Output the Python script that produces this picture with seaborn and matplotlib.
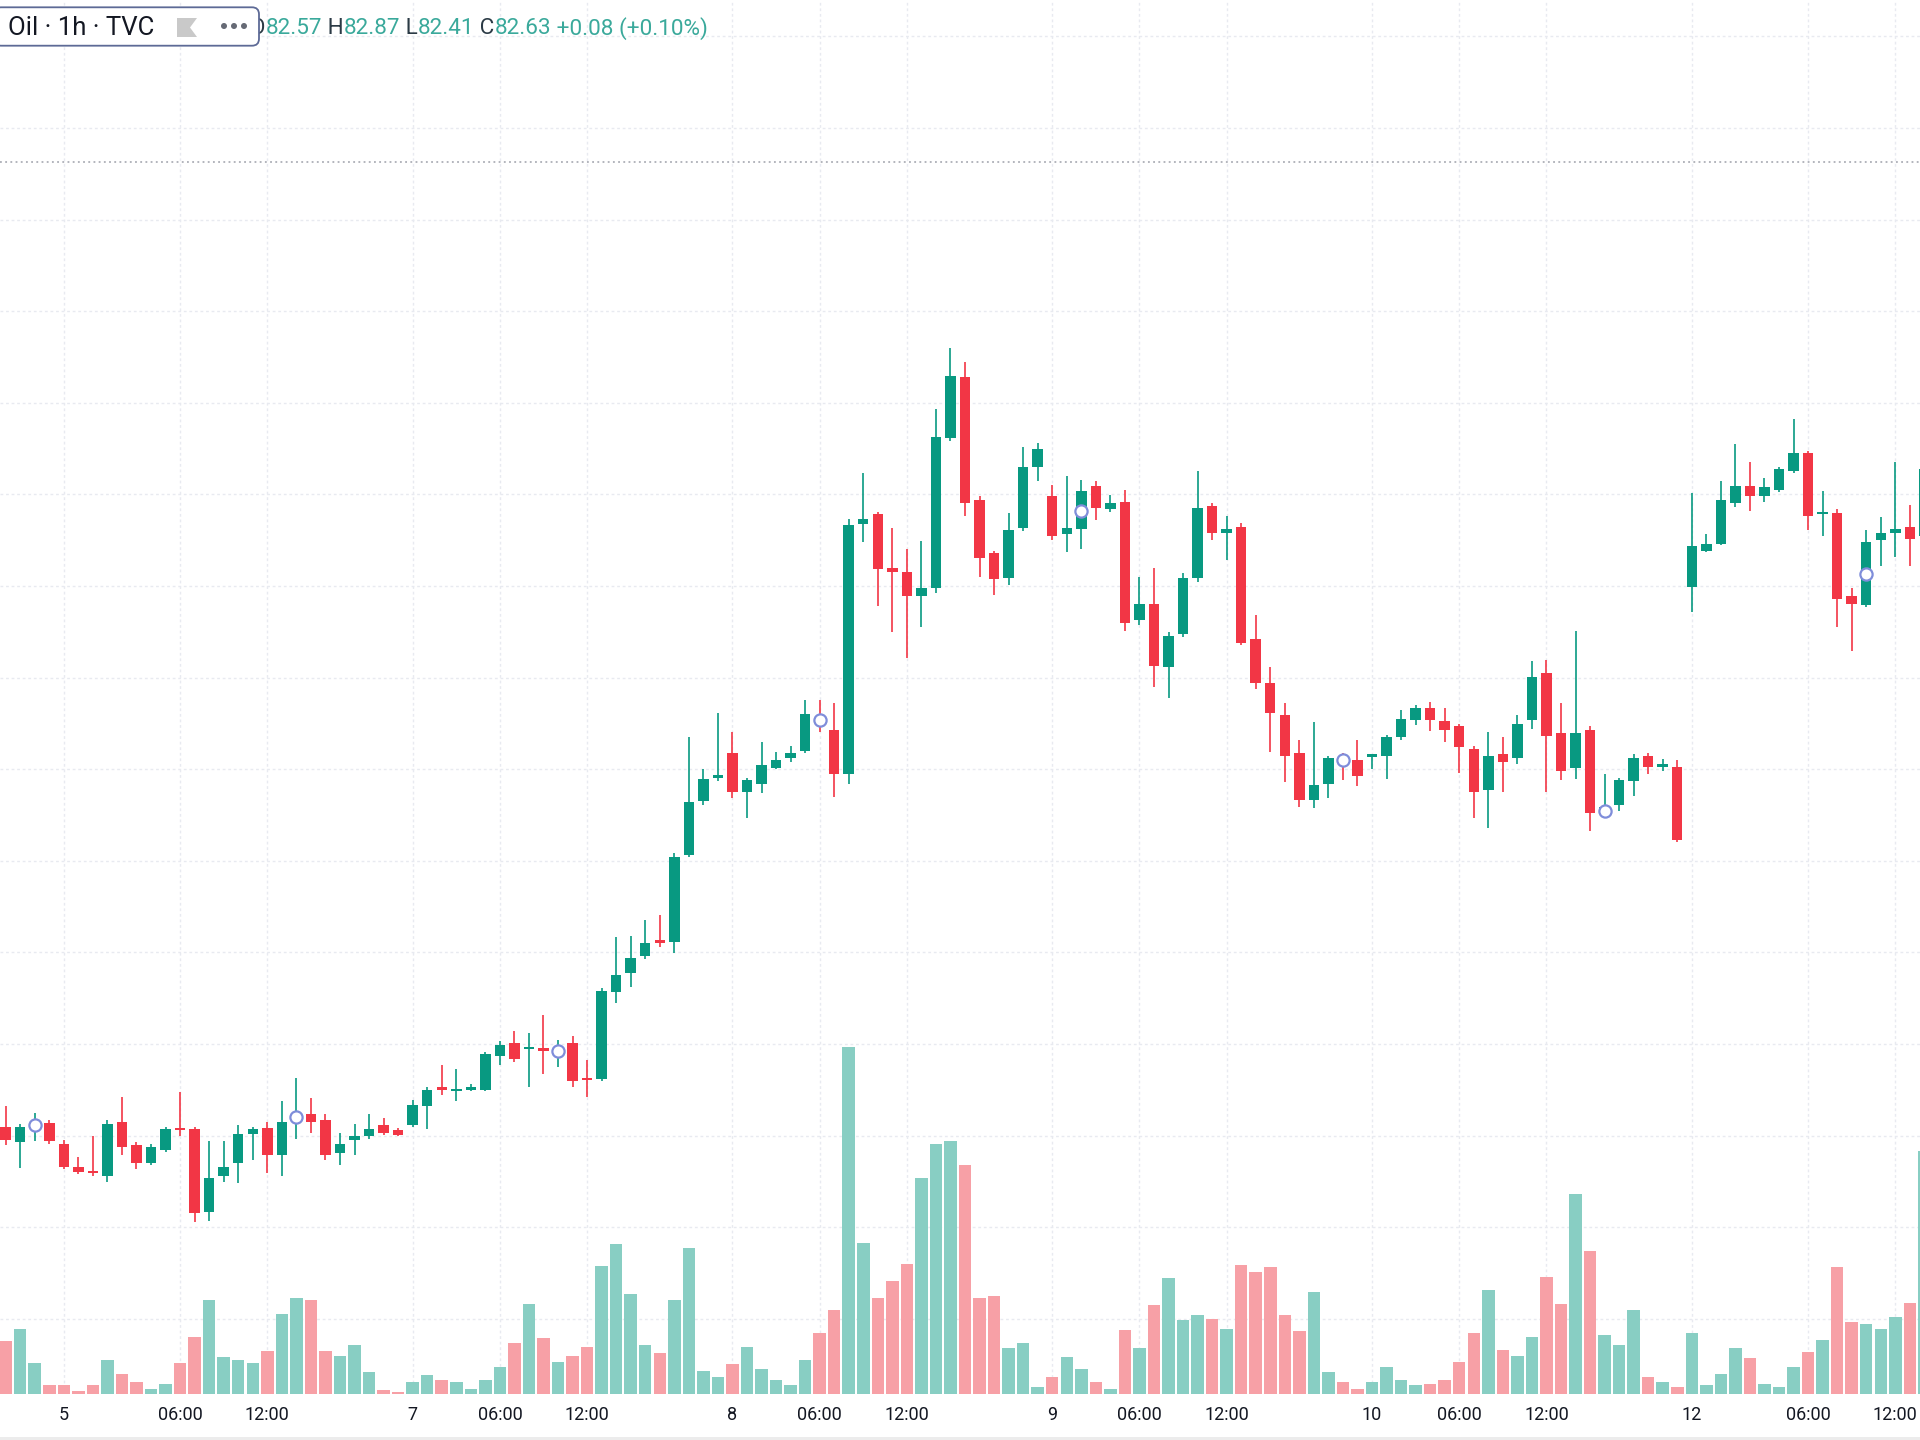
import numpy as np
import pandas as pd
import seaborn as sns
import matplotlib.pyplot as plt
from matplotlib.patches import FancyBboxPatch, Polygon, Circle
from matplotlib.transforms import IdentityTransform

# --- Data (1h bars, TVC Oil) ---
open_ = [77.80, 77.67, 77.79, 77.83, 77.66, 77.47, 77.43, 77.40, 77.84, 77.65,
         77.50, 77.61, 77.78, 77.78, 77.10, 77.40, 77.50, 77.74, 77.79, 77.57,
         77.86, 77.90, 77.85, 77.58, 77.69, 77.72, 77.81, 77.77, 77.81, 77.97,
         78.12, 78.09, 78.10, 78.10, 78.38, 78.48, 78.43, 78.44, 78.40, 78.48,
         78.20, 78.19, 78.90, 79.05, 79.19, 79.32, 79.31, 80.02, 80.46, 80.65,
         80.85, 80.53, 80.60, 80.73, 80.81, 80.87, 81.14, 81.04, 80.68, 82.72,
         82.80, 82.36, 82.33, 82.13, 82.20, 83.42, 83.92, 82.92, 82.48, 82.28,
         82.69, 83.19, 82.95, 82.64, 82.68, 83.03, 82.84, 82.90, 81.94, 82.07,
         81.55, 81.82, 82.28, 82.87, 82.65, 82.70, 81.78, 81.42, 81.16, 80.85,
         80.47, 80.60, 80.81, 80.79, 80.82, 80.83, 80.98, 81.12, 81.22, 81.11,
         81.07, 80.88, 80.55, 80.84, 80.81, 81.12, 81.50, 81.01, 80.73, 81.04,
         80.37, 80.43, 80.62, 80.83, 80.74, 80.74, 82.21, 82.50, 82.56, 82.89,
         83.03, 82.95, 83.00, 83.15, 83.30, 82.80, 82.81, 82.13, 82.06, 82.59,
         82.65, 82.70, 82.62]
high = [77.97, 77.82, 77.91, 77.85, 77.69, 77.55, 77.72, 77.85, 78.04, 77.67,
        77.66, 77.80, 78.08, 77.80, 77.68, 77.68, 77.81, 77.80, 77.84, 78.01,
        78.20, 78.03, 77.90, 77.75, 77.82, 77.90, 77.87, 77.79, 78.02, 78.12,
        78.30, 78.27, 78.15, 78.41, 78.50, 78.58, 78.56, 78.71, 78.51, 78.54,
        78.34, 78.93, 79.35, 79.36, 79.49, 79.53, 80.03, 80.98, 80.72, 81.18,
        81.02, 80.65, 80.94, 80.86, 80.91, 81.28, 81.28, 81.26, 82.76, 83.14,
        82.82, 82.69, 82.52, 82.58, 83.66, 84.16, 84.04, 82.95, 82.50, 82.81,
        83.35, 83.38, 83.04, 83.11, 83.08, 83.07, 82.96, 83.00, 82.29, 82.36,
        81.84, 82.32, 83.15, 82.89, 82.79, 82.73, 81.98, 81.55, 81.26, 80.96,
        81.10, 80.83, 80.85, 80.96, 80.84, 81.00, 81.20, 81.24, 81.27, 81.22,
        81.09, 80.91, 81.02, 80.98, 81.16, 81.60, 81.61, 81.26, 81.85, 81.07,
        80.68, 80.65, 80.84, 80.85, 80.80, 80.79, 82.97, 82.64, 83.07, 83.37,
        83.23, 83.10, 83.19, 83.58, 83.32, 82.99, 82.84, 82.20, 82.67, 82.78,
        83.23, 82.88, 83.40]
low = [77.65, 77.46, 77.68, 77.66, 77.45, 77.41, 77.40, 77.35, 77.57, 77.45,
       77.49, 77.59, 77.72, 77.02, 77.03, 77.35, 77.34, 77.53, 77.42, 77.40,
       77.70, 77.75, 77.53, 77.49, 77.57, 77.70, 77.73, 77.72, 77.80, 77.78,
       78.06, 78.01, 78.09, 78.09, 78.30, 78.33, 78.12, 78.23, 78.29, 78.12,
       78.04, 78.17, 78.81, 78.94, 79.17, 79.27, 79.22, 80.00, 80.43, 80.62,
       80.48, 80.32, 80.52, 80.72, 80.78, 80.85, 81.02, 80.49, 80.60, 82.57,
       82.05, 81.84, 81.63, 81.88, 82.16, 83.40, 82.79, 82.29, 82.14, 82.22,
       82.66, 83.07, 82.59, 82.49, 82.52, 82.75, 82.82, 81.85, 81.90, 81.39,
       81.30, 81.80, 82.25, 82.59, 82.43, 81.73, 81.37, 80.86, 80.61, 80.41,
       80.40, 80.48, 80.63, 80.58, 80.72, 80.64, 80.96, 81.08, 81.03, 80.94,
       80.69, 80.32, 80.24, 80.53, 80.76, 81.05, 80.53, 80.63, 80.64, 80.21,
       80.35, 80.38, 80.50, 80.68, 80.70, 80.12, 82.00, 82.49, 82.55, 82.86,
       82.83, 82.90, 82.98, 83.14, 82.67, 82.62, 81.88, 81.68, 82.04, 82.38,
       82.45, 82.38, 82.55]
close = [77.69, 77.80, 77.83, 77.68, 77.47, 77.43, 77.42, 77.82, 77.63, 77.50,
         77.63, 77.78, 77.77, 77.09, 77.38, 77.47, 77.74, 77.78, 77.57, 77.84,
         77.90, 77.84, 77.57, 77.66, 77.72, 77.78, 77.75, 77.73, 77.98, 78.10,
         78.10, 78.11, 78.12, 78.39, 78.47, 78.35, 78.45, 78.42, 78.44, 78.17,
         78.18, 78.91, 79.04, 79.18, 79.30, 79.30, 80.00, 80.45, 80.64, 80.67,
         80.53, 80.63, 80.75, 80.79, 80.85, 81.17, 81.10, 80.68, 82.71, 82.76,
         82.35, 82.33, 82.13, 82.20, 83.43, 83.93, 82.89, 82.44, 82.27, 82.67,
         83.19, 83.33, 82.62, 82.69, 82.99, 82.85, 82.89, 81.91, 82.07, 81.56,
         81.81, 82.28, 82.85, 82.65, 82.68, 81.75, 81.42, 81.18, 80.83, 80.47,
         80.59, 80.81, 80.77, 80.66, 80.84, 80.98, 81.13, 81.22, 81.12, 81.04,
         80.90, 80.53, 80.83, 80.78, 81.09, 81.47, 80.99, 80.70, 81.01, 80.36,
         80.41, 80.63, 80.81, 80.74, 80.76, 80.14, 82.54, 82.56, 82.92, 83.03,
         82.95, 83.02, 83.17, 83.30, 82.79, 82.82, 82.11, 82.07, 82.57, 82.65,
         82.68, 82.60, 83.17]
volume = [4300, 5300, 2450, 680, 680, 220, 680, 2700, 1600, 900,
          400, 800, 2450, 4600, 7600, 3000, 2700, 2450, 3500, 6500,
          7800, 7600, 3500, 3100, 3950, 1770, 270, 100, 950, 1500,
          1100, 950, 400, 1100, 2200, 4100, 7300, 4500, 2600, 3100,
          3800, 10400, 12200, 8100, 3950, 3270, 7600, 11900, 1850, 1360,
          2400, 3800, 2000, 1100, 680, 2700, 4900, 6800, 28300, 12260,
          7770, 9200, 10570, 17570, 20400, 20650, 18660, 7770, 8000, 3680,
          4090, 540, 1360, 3000, 2040, 950, 400, 5180, 3680, 7200,
          9400, 6000, 6400, 6100, 5300, 10500, 9950, 10350, 6400, 5070,
          8300, 1770, 950, 400, 950, 2180, 1100, 680, 800, 1100,
          2600, 4900, 8450, 3540, 3100, 4600, 9500, 7300, 16300, 11600,
          4770, 3950, 6800, 1360, 950, 540, 4900, 680, 1600, 3680,
          2860, 800, 540, 2180, 3400, 4360, 10350, 5860, 5700, 5300,
          6270, 7360, 19800]

# hollow event markers drawn on some bars
marker_bars = [2, 20, 38, 56, 74, 92, 110, 128]
marker_price = [77.81, 77.88, 78.42, 81.12, 82.83, 80.79, 80.38, 82.31]

# time axis labels (bar index of each label)
tick_bars = [4, 12, 18, 28, 34, 40, 50, 56, 62, 72, 78, 84, 94, 100, 106, 116, 124, 130]
tick_labels = ["5", "06:00", "12:00", "7", "06:00", "12:00", "8", "06:00", "12:00",
               "9", "06:00", "12:00", "10", "06:00", "12:00", "12", "06:00", "12:00"]

prev_close_line = 85.68
ohlc_header = [("O", "dark"), ("82.57", "val"), (" H", "dark"), ("82.87", "val"),
               (" L", "dark"), ("82.41", "val"), (" C", "dark"), ("82.63", "val"),
               (" +0.08 (+0.10%)", "val")]

UP = "#089981"
DOWN = "#f23645"
VOL_UP = "#88cec3"
VOL_DOWN = "#f7a0a6"
GRID = "#e8eaf0"
TEXT = "#131722"

sns.set_theme(style="white")
plt.rcParams['font.family'] = ['Roboto', 'DejaVu Sans']

W, H = 1920, 1440
fig = plt.figure(figsize=(W / 100, H / 100), dpi=100, facecolor="white")
pane_bottom = 46.5 / H
ax = fig.add_axes([0, pane_bottom, 1, 1 - pane_bottom])
axv = ax.twinx()
ax.set_zorder(2)
axv.set_zorder(1)
ax.patch.set_visible(False)

idx = np.arange(len(close))
o = np.array(open_)
c = np.array(close)
up = c >= o
colors = np.where(up, UP, DOWN)

# volume at the bottom of the pane
vol_df = pd.DataFrame({"bar": idx, "volume": volume, "side": np.where(up, "up", "down")})
sns.barplot(data=vol_df, x="bar", y="volume", hue="side",
            palette={"up": VOL_UP, "down": VOL_DOWN}, native_scale=True,
            dodge=False, width=0.86, saturation=1, errorbar=None,
            legend=False, linewidth=0, ax=axv)

# candles
ax.vlines(idx, low, high, colors=colors, linewidth=1.2, zorder=2)
body_lo = np.minimum(o, c)
body_h = np.maximum(np.abs(c - o), 0.02)
ax.bar(idx, body_h, bottom=body_lo, width=0.72, color=colors, linewidth=0, zorder=3)
ax.plot(marker_bars, marker_price, "o", ms=8.8, mfc="white", mec="#7f8dda",
        mew=1.6, zorder=4, linestyle="none")

ax.axhline(prev_close_line, color="#9ea1aa", linestyle=(0, (1.2, 2.2)), lw=1.1, zorder=1)

xlim = (-0.39, 131.7)
ylim = (75.62, 87.0)
ax.set_xlim(*xlim)
ax.set_ylim(*ylim)

# grid behind everything (drawn in the volume axes)
grid_levels = np.arange(76.23, 87.0, 0.748)
axv.hlines(grid_levels, xlim[0], xlim[1], transform=ax.transData,
           colors=GRID, linestyles=(0, (2, 2)), linewidth=1.0, zorder=0)
axv.vlines(tick_bars, 0, 1, transform=axv.get_xaxis_transform(),
           colors=GRID, linestyles=(0, (2, 2)), linewidth=1.0, zorder=0)
axv.set_xlim(*xlim)
axv.set_ylim(0, 113800)

ax.set_xticks(tick_bars)
ax.set_xticklabels(tick_labels)
ax.set_yticks([])
axv.set_yticks([])
axv.set_xlabel("")
axv.set_ylabel("")
ax.set_xlabel("")
ax.set_ylabel("")
ax.tick_params(axis="x", length=0, pad=9, labelsize=13, labelcolor=TEXT)
for a in (ax, axv):
    for s in a.spines.values():
        s.set_visible(False)

# bottom edge strip
fig.add_artist(plt.Rectangle((0, 0), W, 3, transform=IdentityTransform(),
                             fc="#ececec", ec="none", zorder=1))

# --- header legend ---
fig.add_artist(FancyBboxPatch((-6, H - 45.7), 265, 38.4,
                              boxstyle="round,pad=0,rounding_size=7",
                              transform=IdentityTransform(), fc="white",
                              ec="#5d6a96", lw=1.3, zorder=5))
fig.text(8 / W, 1 - 28 / H, "Oil · 1h · TVC", fontsize=18.5, color=TEXT,
         ha="left", va="center", zorder=6)
fig.add_artist(Polygon([(177, H - 18), (197, H - 18), (190, H - 27.5), (197, H - 37),
                        (177, H - 37)], closed=True, transform=IdentityTransform(),
                       fc="#c9c9c9", ec="none", zorder=6))
for cx in (224, 234, 244):
    fig.add_artist(Circle((cx, H - 26), 3.0, transform=IdentityTransform(),
                          fc="#666a75", ec="none", zorder=6))

renderer = fig.canvas.get_renderer()
x = 250
for s, kind in ohlc_header:
    col = "#2b3a45" if kind == "dark" else "#3aa99b"
    t = fig.text(x / W, 1 - 34.5 / H, s, fontsize=16.2, color=col,
                 ha="left", va="baseline", zorder=4)
    x = t.get_window_extent(renderer).x1

fig.savefig("out.png", dpi=100, facecolor="white")
